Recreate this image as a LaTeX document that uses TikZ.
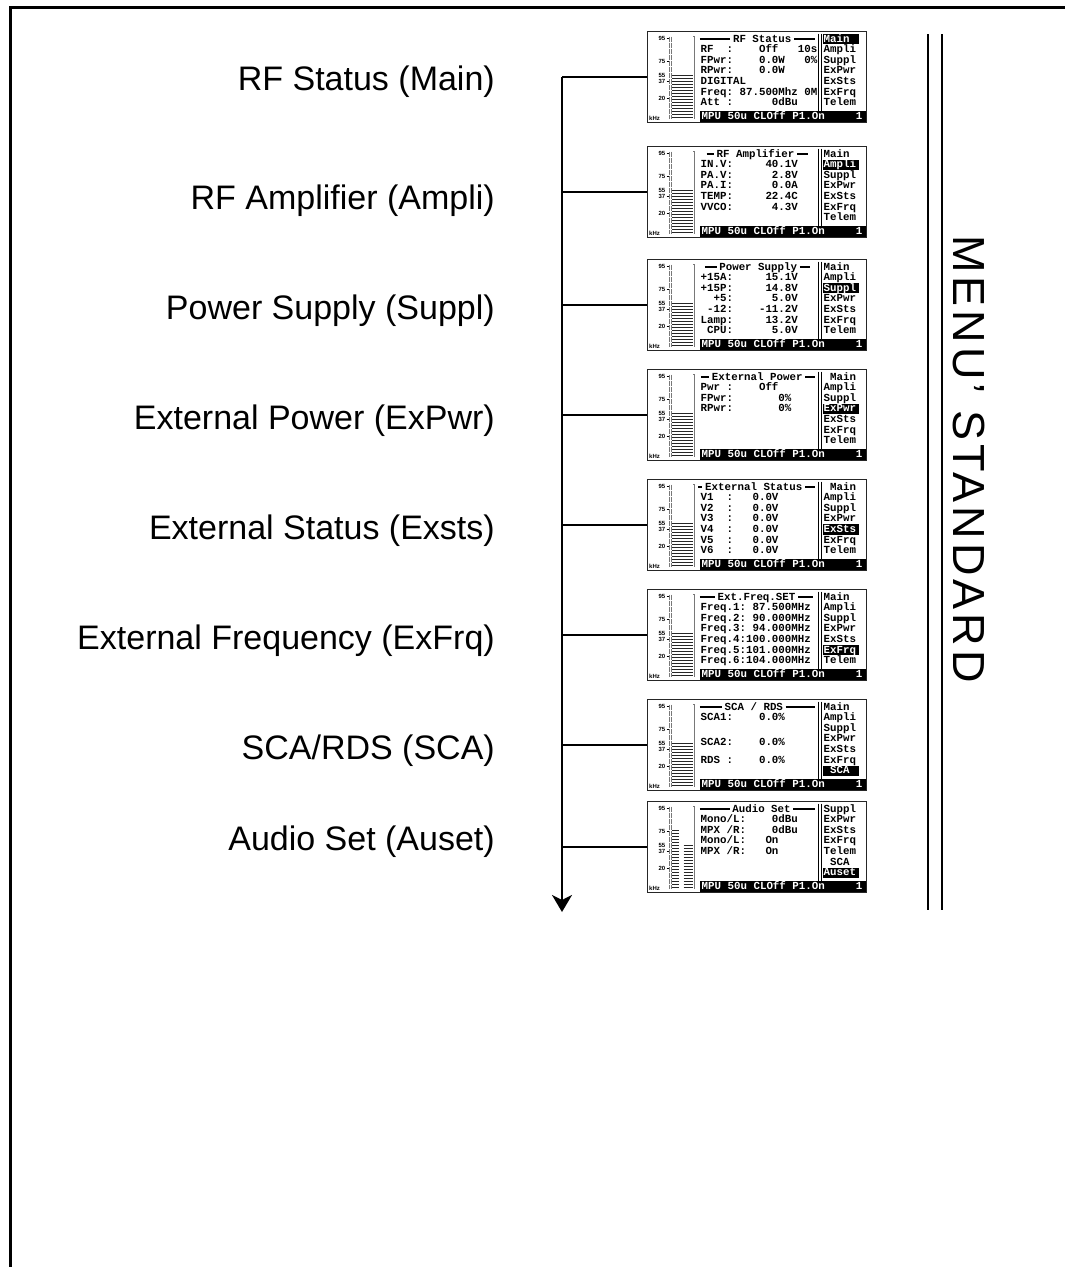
\documentclass[tikz,border=0pt]{standalone}
\usepackage{fontspec}
\setmainfont{Liberation Sans}
\newfontfamily\lcdmono{Liberation Mono}
\usetikzlibrary{arrows.meta, positioning}
\definecolor{lcdgrey}{RGB}{120,120,120}

\tikzset{
  menulabel/.style={anchor=base east, inner sep=0pt, font=\fontsize{34}{34}\selectfont},
  screen/.style={draw=black!85, line width=1pt, minimum width=219pt, minimum height=91pt, inner sep=0pt},
  lcd/.style={anchor=west, inner sep=0pt, text height=6.2pt, text depth=0pt,
    font=\lcdmono\bfseries\fontsize{10.8}{10.8}\selectfont},
  lcdhead/.style={lcd, anchor=center, inner xsep=2.5pt},
  lcdrule/.style={line width=1.1pt},
  stripe/.style={line width=1.1pt, black!85},
  scalelbl/.style={anchor=east, inner sep=0pt, font=\bfseries\fontsize{6}{6}\selectfont},
  trunk/.style={line width=2pt},
}

% title of a screen: panel, text, centre, left end, right end
\newcommand{\lcdtitle}[5]{%
  \node[lcdhead] (p#1t) at (#3,8.5) {#2};
  \draw[lcdrule] (#4,8.5) -- (p#1t.west);
  \draw[lcdrule] (p#1t.east) -- (#5,8.5);}
% text lines of a screen
\newcommand{\lcdlines}[2]{%
  \foreach \row/\txt [count=\n] in {#2}{
    \node[lcd] (p#1l\n) at (54,{8.5+10.6*\row}) {\txt};
  }}
% menu column, one row highlighted
\newcommand{\lcdmenu}[3]{%
  \fill (176,{3.4+10.6*#3}) rectangle (212.5,{13.6+10.6*#3});
  \foreach \entry [count=\row from 0] in {#2}{
    \ifnum\row=#3
      \node[lcd, text=white] (p#1m\row) at (177,{8.5+10.6*\row}) {\entry};
    \else
      \node[lcd] (p#1m\row) at (177,{8.5+10.6*\row}) {\entry};
    \fi
  }}

\begin{document}
\begin{tikzpicture}[x=1pt, y=-1pt]
  \useasboundingbox (0,0) rectangle (1065,1267);
  \draw[line width=3pt] (10.3,1267) -- (10.3,7.5) -- (1065,7.5);

  % screens: frame, bar graph, status line
  \foreach \k/\ytop in {1/31,2/146,3/259,4/369,5/479,6/589,7/699,8/801}{
    \node[screen] (p\k) at (756.5,\ytop+45.5) {};
    \begin{scope}[shift={(p\k.north west)}]
      \node[scalelbl] (p\k s95) at (19,7.5) {95};
      \node[scalelbl] (p\k s75) at (19,31) {75};
      \node[scalelbl] (p\k s55) at (19,45) {55};
      \node[scalelbl] (p\k s37) at (19,50.5) {37};
      \node[scalelbl] (p\k s20) at (19,68) {20};
      \node[scalelbl, anchor=west] (p\k khz) at (2.5,88) {kHz};
      \foreach \t in {7.5,31,50.5,68}
        \draw[line width=0.6pt] (20,\t) -- (22.5,\t);
      \draw[lcdgrey, line width=0.7pt, dash pattern=on 0.6pt off 0.6pt] (23,6) -- (23,88);
      \draw[lcdgrey, line width=0.7pt, dash pattern=on 0.6pt off 0.6pt] (24.8,6) -- (24.8,88);
      \draw[lcdgrey, line width=0.7pt] (46.5,6) -- (48,6) -- (48,88);
      \ifnum\k<8
        \foreach \s in {0,...,14}
          \draw[stripe] (25.5,{45+3*\s}) -- (46,{45+3*\s});
      \else
        \foreach \s in {0,...,19}
          \draw[stripe] (25.5,{30+3*\s}) -- (32.5,{30+3*\s});
        \foreach \s in {0,...,14}
          \draw[stripe] (37,{45+3*\s}) -- (46,{45+3*\s});
      \fi
      \draw[line width=0.8pt] (172,3) -- (172,80) (174.8,3) -- (174.8,80);
      \fill (53,80) rectangle (219,91);
      \node[lcd, text=white] (p\k st) at (55,85.5) {MPU~50u~CLOff~P1.On};
      \node[lcd, text=white, anchor=east] (p\k no) at (216,85.5) {1};
    \end{scope}
  }

  \begin{scope}[shift={(p1.north west)}]
    \lcdtitle{1}{RF Status}{115.7}{53.3}{168.3}
    \lcdlines{1}{1/{RF~~:~~~~Off~~~10s}, 2/{FPwr:~~~~0.0W~~~0\%}, 3/{RPwr:~~~~0.0W},
      4/DIGITAL, 5/{Freq:~87.500Mhz~0M}, 6/{Att~:~~~~~~0dBu}}
    \lcdmenu{1}{Main,Ampli,Suppl,ExPwr,ExSts,ExFrq,Telem}{0}
  \end{scope}
  \begin{scope}[shift={(p2.north west)}]
    \lcdtitle{2}{RF Amplifier}{109}{60}{161.7}
    \lcdlines{2}{1/{IN.V:~~~~~40.1V}, 2/{PA.V:~~~~~~2.8V}, 3/{PA.I:~~~~~~0.0A},
      4/{TEMP:~~~~~22.4C}, 5/{VVCO:~~~~~~4.3V}}
    \lcdmenu{2}{Main,Ampli,Suppl,ExPwr,ExSts,ExFrq,Telem}{1}
  \end{scope}
  \begin{scope}[shift={(p3.north west)}]
    \lcdtitle{3}{Power Supply}{111.7}{58.3}{163.3}
    \lcdlines{3}{1/{+15A:~~~~~15.1V}, 2/{+15P:~~~~~14.8V}, 3/{~~+5:~~~~~~5.0V},
      4/{~-12:~~~~-11.2V}, 5/{Lamp:~~~~~13.2V}, 6/{~CPU:~~~~~~5.0V}}
    \lcdmenu{3}{Main,Ampli,Suppl,ExPwr,ExSts,ExFrq,Telem}{2}
  \end{scope}
  \begin{scope}[shift={(p4.north west)}]
    \lcdtitle{4}{External Power}{110.7}{54.3}{168.3}
    \lcdlines{4}{1/{Pwr~:~~~~Off}, 2/{FPwr:~~~~~~~0\%}, 3/{RPwr:~~~~~~~0\%}}
    \lcdmenu{4}{~Main,Ampli,Suppl,ExPwr,ExSts,ExFrq,Telem}{3}
  \end{scope}
  \begin{scope}[shift={(p5.north west)}]
    \lcdtitle{5}{External Status}{107.3}{51.7}{168.3}
    \lcdlines{5}{1/{V1~~:~~~0.0V}, 2/{V2~~:~~~0.0V}, 3/{V3~~:~~~0.0V},
      4/{V4~~:~~~0.0V}, 5/{V5~~:~~~0.0V}, 6/{V6~~:~~~0.0V}}
    \lcdmenu{5}{~Main,Ampli,Suppl,ExPwr,ExSts,ExFrq,Telem}{4}
  \end{scope}
  \begin{scope}[shift={(p6.north west)}]
    \lcdtitle{6}{Ext.Freq.SET}{110}{53.3}{166.7}
    \lcdlines{6}{1/{Freq.1:~87.500MHz}, 2/{Freq.2:~90.000MHz}, 3/{Freq.3:~94.000MHz},
      4/{Freq.4:100.000MHz}, 5/{Freq.5:101.000MHz}, 6/{Freq.6:104.000MHz}}
    \lcdmenu{6}{Main,Ampli,Suppl,ExPwr,ExSts,ExFrq,Telem}{5}
  \end{scope}
  \begin{scope}[shift={(p7.north west)}]
    \lcdtitle{7}{SCA / RDS}{107.3}{53.3}{168.3}
    \lcdlines{7}{1/{SCA1:~~~~0.0\%}, 3.3/{SCA2:~~~~0.0\%}, 5/{RDS~:~~~~0.0\%}}
    \lcdmenu{7}{Main,Ampli,Suppl,ExPwr,ExSts,ExFrq,~SCA}{6}
  \end{scope}
  \begin{scope}[shift={(p8.north west)}]
    \lcdtitle{8}{Audio Set}{115}{53.3}{168.3}
    \lcdlines{8}{1/{Mono/L:~~~~0dBu}, 2/{MPX~/R:~~~~0dBu}, 3/{Mono/L:~~~On}, 4/{MPX~/R:~~~On}}
    \lcdmenu{8}{Suppl,ExPwr,ExSts,ExFrq,Telem,~SCA,Auset}{6}
  \end{scope}

  % menu names on the left
  \foreach \k/\y/\txt in {1/78/{RF Status (Main)}, 2/197/{RF Amplifier (Ampli)},
      3/307/{Power Supply (Suppl)}, 4/417/{External Power (ExPwr)},
      5/527/{External Status (Exsts)}, 6/637/{External Frequency (ExFrq)},
      7/747/{SCA/RDS (SCA)}, 8/838/{Audio Set (Auset)}}
    \node[menulabel] (l\k) at (495,\y+12.2) {\txt};

  % trunk with branches to every screen
  \coordinate (trunktop) at (562,0 |- p1.west);
  \coordinate (tip) at (562,912);
  \draw[trunk, -{Stealth[length=17pt, width=20pt, inset=5pt]}] (trunktop) -- (tip);
  \foreach \k in {1,...,8}
    \draw[trunk] (562,0 |- p\k.west) -- (p\k.west);

  % side title
  \draw[line width=2pt] (928.3,34) -- (928.3,910) (941.7,34) -- (941.7,910);
  \node[rotate=-90, inner sep=0pt, font=\fontsize{45}{45}\selectfont\addfontfeature{LetterSpace=9}] (side) at (968.5,459) {MENU' STANDARD};
\end{tikzpicture}
\end{document}
